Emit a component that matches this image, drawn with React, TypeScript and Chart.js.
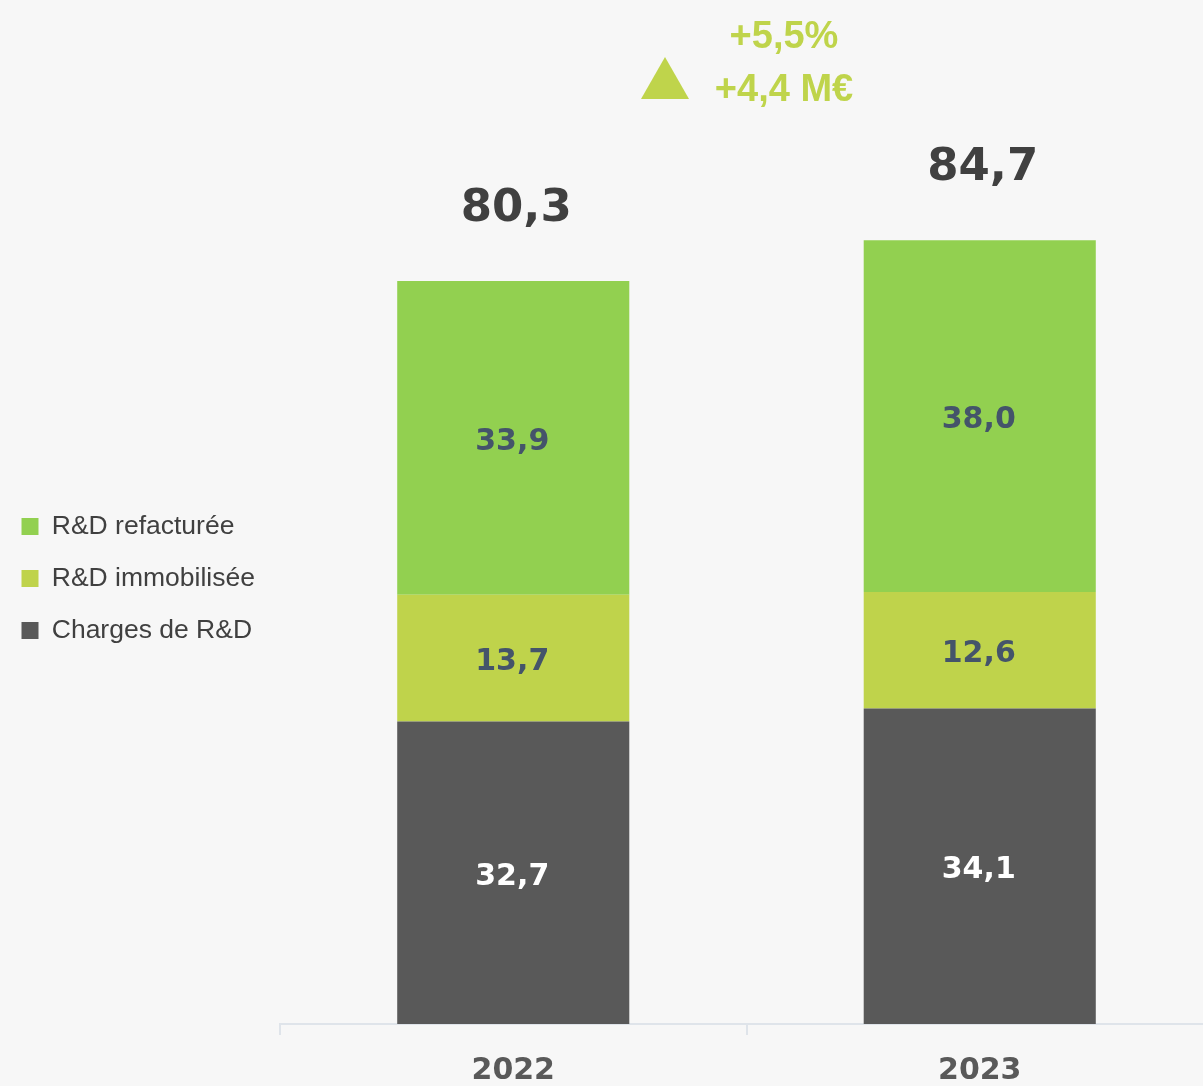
import { useEffect, useRef } from 'react';
import { Chart, registerables } from 'chart.js';

Chart.register(...registerables);

const categories = ['2022', '2023'];
const seriesNames = ['Charges de R&D', 'R&D immobilisée', 'R&D refacturée'];
const chargesRD = [32.7, 34.1];
const rdImmobilisee = [13.7, 12.6];
const rdRefacturee = [33.9, 38.0];
const seriesValues = [chargesRD, rdImmobilisee, rdRefacturee];
const seriesColors = ['#595959', '#bfd34b', '#92d050'];
const labelColors = ['#ffffff', '#44546a', '#44546a'];
const Y_MAX = 103.0;

const fmt = (v: number) => v.toFixed(1).replace('.', ',');

const valueLabels = {
  id: 'valueLabels',
  afterDatasetsDraw(chart: any) {
    const ctx = chart.ctx;
    ctx.save();
    ctx.textAlign = 'center';
    ctx.textBaseline = 'alphabetic';
    chart.data.datasets.forEach((ds: any, di: number) => {
      const meta = chart.getDatasetMeta(di);
      meta.data.forEach((bar: any, i: number) => {
        const { x, y, base } = bar.getProps(['x', 'y', 'base'], true);
        ctx.font = 'bold 30px "DejaVu Sans"';
        ctx.fillStyle = labelColors[di];
        ctx.fillText(fmt(ds.data[i]), x - 1, (y + base) / 2 + 12);
      });
    });
    const lastMeta = chart.getDatasetMeta(chart.data.datasets.length - 1);
    const totals = categories.map((_, i) =>
      seriesValues.reduce((s, arr) => s + arr[i], 0)
    );
    totals.forEach((t, i) => {
      const bar = lastMeta.data[i];
      ctx.font = 'bold 45px "DejaVu Sans"';
      ctx.fillStyle = '#404040';
      ctx.fillText(fmt(t), bar.x + 3, bar.y - 60);
    });
    // growth annotation
    const diff = totals[1] - totals[0];
    const pct = (diff / totals[0]) * 100;
    const green = '#bfd44b';
    ctx.fillStyle = green;
    ctx.font = 'bold 38px "Liberation Sans", Arial, sans-serif';
    ctx.fillText('+' + fmt(pct) + '%', 784, 48);
    ctx.fillText('+' + fmt(diff) + ' M€', 784, 101);
    ctx.beginPath();
    ctx.moveTo(641, 99);
    ctx.lineTo(689, 99);
    ctx.lineTo(665, 57);
    ctx.closePath();
    ctx.fill();
    ctx.restore();
  },
};

export default function App() {
  const ref = useRef<HTMLCanvasElement>(null);
  useEffect(() => {
    document.body.style.margin = '0';
    if (!ref.current) return;
    const chart = new Chart(ref.current, {
      type: 'bar',
      data: {
        labels: categories,
        datasets: seriesNames.map((name, i) => ({
          label: name,
          data: seriesValues[i],
          backgroundColor: seriesColors[i],
          borderWidth: 0,
          categoryPercentage: 1,
          barPercentage: 0.4975,
        })),
      },
      options: {
        responsive: false,
        animation: false,
        devicePixelRatio: 1,
        layout: { padding: { left: -4, top: 71, right: 0, bottom: 0 } },
        plugins: {
          legend: {
            position: 'left',
            align: 'center',
            reverse: true,
            labels: {
              boxWidth: 17,
              boxHeight: 17,
              padding: 25.5,
              color: '#404040',
              font: {
                family: '"Liberation Sans Narrow", "Arial Narrow", "Liberation Sans", sans-serif',
                size: 26.5,
              },
            },
          },
          tooltip: { enabled: false },
        },
        scales: {
          x: {
            stacked: true,
            afterFit: (scale: any) => {
              scale.height = 62;
            },
            grid: {
              display: true,
              offset: true,
              drawOnChartArea: false,
              drawTicks: true,
              tickLength: 11,
              color: '#dfe4ea',
              lineWidth: 2,
            },
            border: { display: true, color: '#dfe4ea', width: 2 },
            ticks: {
              padding: 18,
              color: '#595959',
              font: { family: '"DejaVu Sans"', size: 30, weight: 'bold' },
            },
          },
          y: {
            stacked: true,
            min: 0,
            max: Y_MAX,
            afterFit: (scale: any) => {
              const lw = scale.chart.legend ? scale.chart.legend.width : 0;
              scale.width = Math.max(0, 284 - lw);
            },
            ticks: { display: false },
            grid: { display: false },
            border: { display: false },
          },
        },
      },
      plugins: [valueLabels],
    } as any);
    return () => chart.destroy();
  }, []);
  return (
    <div
      style={{
        position: 'relative',
        width: 1203,
        height: 1086,
        overflow: 'hidden',
        background: '#f7f7f7',
      }}
    >
      <canvas ref={ref} width={1213} height={1086} style={{ display: 'block' }} />
    </div>
  );
}
